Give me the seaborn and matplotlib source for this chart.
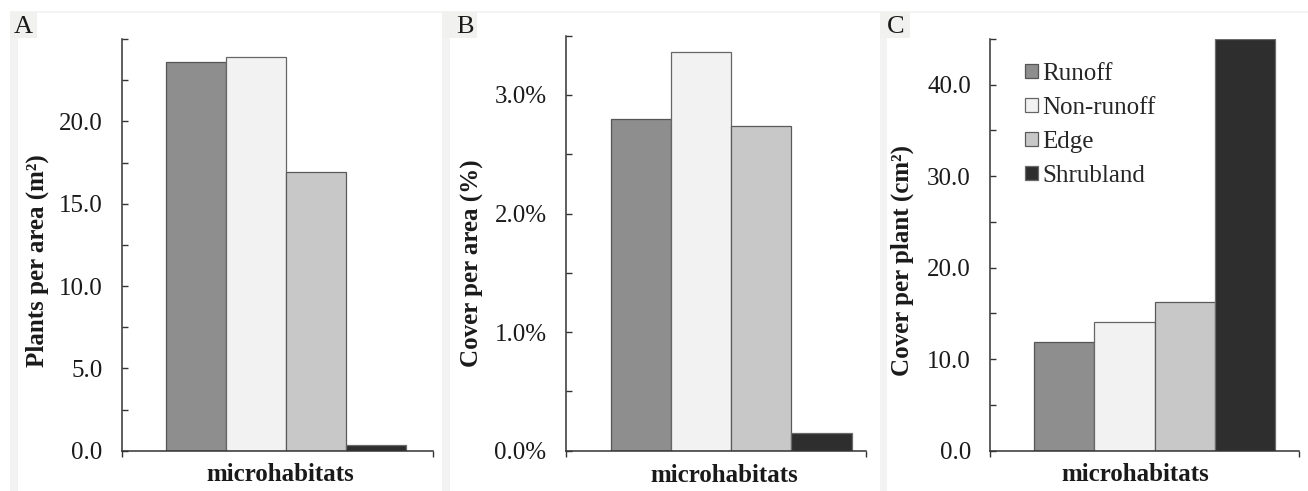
import matplotlib
matplotlib.use("Agg")
import matplotlib.pyplot as plt
from matplotlib.patches import Patch, Rectangle
from matplotlib.ticker import FixedLocator, FuncFormatter
import seaborn as sns
import pandas as pd

# ---- data ----
habitats = ["Runoff", "Non-runoff", "Edge", "Shrubland"]
plants_per_area = [23.6, 23.9, 16.9, 0.35]          # plants per m2
cover_per_area = [2.80, 3.36, 2.74, 0.15]            # percent
cover_per_plant = [11.9, 14.05, 16.2, 45.0]          # cm2
colors = ["#8e8e8e", "#f2f2f2", "#c8c8c8", "#2e2e2e"]
edge_colors = ["#555555", "#666666", "#5a5a5a", "#6a6a6a"]
group = "microhabitats"

sns.set_theme(style="white")
plt.rcParams["font.family"] = ["Liberation Serif", "DejaVu Serif"]

W, H = 1308, 491
fig = plt.figure(figsize=(W / 100, H / 100), dpi=100)
fig.patch.set_facecolor("white")

def fig_rect(x0, y0, x1, y1, color):
    fig.patches.append(Rectangle((x0 / W, (H - y1) / H), (x1 - x0) / W, (y1 - y0) / H,
                                 transform=fig.transFigure, facecolor=color,
                                 edgecolor="none", zorder=0))

# faint scan frame
fig_rect(10, 11.5, W, 12.5, "#f3f3f3")

def px_axes(left, right, top, bottom):
    return fig.add_axes([left / W, (H - bottom) / H, (right - left) / W, (bottom - top) / H])

panels = [
    dict(vals=plants_per_area, box=(122, 433, 39, 450.7), ylim=25, step=2.5, lab_step=5,
         fmt=lambda v: f"{v:.1f}", ylabel="Plants per area (m²)",
         xlim=(-0.547, 0.49), ylab_xy=(-0.273, 0.461), xlab_x=0.51, letter="A",
         letter_x=23.5, strip=(10, 18), lbox=(10, 37)),
    dict(vals=cover_per_area, box=(566, 866, 35.7, 450.7), ylim=3.5, step=0.5, lab_step=1,
         fmt=lambda v: f"{v:.1f}%", ylabel="Cover per area (%)",
         xlim=(-0.55, 0.448), ylab_xy=(-0.312, 0.453), xlab_x=0.527, letter="B",
         letter_x=465, strip=(442, 450), lbox=(442, 477)),
    dict(vals=cover_per_plant, box=(990.3, 1299, 39, 450.7), ylim=45, step=5, lab_step=10,
         fmt=lambda v: f"{v:.1f}", ylabel="Cover per plant (cm²)",
         xlim=(-0.546, 0.48), ylab_xy=(-0.284, 0.463), xlab_x=0.469, letter="C",
         letter_x=896, strip=(880, 887), lbox=(880, 910)),
]

for p in panels:
    fig_rect(p["strip"][0], 12, p["strip"][1], H, "#f3f3f3")
    fig_rect(p["lbox"][0], 12, p["lbox"][1], 38, "#f1f1ef")
    ax = px_axes(*p["box"])
    df = pd.DataFrame({"group": [group] * 4, "habitat": habitats, "value": p["vals"]})
    sns.barplot(data=df, x="group", y="value", hue="habitat", hue_order=habitats,
                palette=colors, width=0.8, gap=0, legend=False, ax=ax, saturation=1)
    for cont, ec in zip(ax.containers, edge_colors):
        for bar in cont:
            bar.set_edgecolor(ec)
            bar.set_linewidth(0.9)
    ax.set_xlim(*p["xlim"])
    ax.set_ylim(0, p["ylim"])
    ax.set_facecolor("white")
    for s in ["top", "right"]:
        ax.spines[s].set_visible(False)
    for s in ["left", "bottom"]:
        ax.spines[s].set_color("#333333")
        ax.spines[s].set_linewidth(1.1)
    n = int(round(p["ylim"] / p["step"]))
    ticks = [i * p["step"] for i in range(n + 1)]
    ax.yaxis.set_major_locator(FixedLocator(ticks))
    lab_step = p["lab_step"]; ylim = p["ylim"]; fmt = p["fmt"]
    ax.yaxis.set_major_formatter(FuncFormatter(
        lambda v, pos, ls=lab_step, ym=ylim, f=fmt:
            f(v) if abs(v / ls - round(v / ls)) < 1e-6 and v < ym - 1e-6 else ""))
    ax.tick_params(axis="y", direction="in", length=4, width=1.0, color="#333333",
                   pad=14, labelsize=18, labelcolor="#1a1a1a", left=True)
    ax.set_xticks(list(p["xlim"]))
    ax.set_xticklabels(["", ""])
    ax.tick_params(axis="x", direction="out", length=4, width=1.0, color="#333333", bottom=True)
    ax.set_ylabel(p["ylabel"], fontsize=18, fontweight="bold", va="center", color="#1a1a1a")
    ax.yaxis.set_label_coords(*p["ylab_xy"])
    ax.set_xlabel("")
    ax.text(p["xlab_x"], -0.059, group, transform=ax.transAxes, ha="center", va="center",
            fontsize=18, fontweight="bold", color="#1a1a1a")
    fig.text(p["letter_x"] / W, (H - 33) / H, p["letter"], ha="center", va="baseline",
             fontsize=19, color="#1a1a1a")
    if p["letter"] == "C":
        handles = [Patch(facecolor=c, edgecolor=e, linewidth=0.9) for c, e in zip(colors, edge_colors)]
        ax.legend(handles, habitats, loc="upper left", bbox_to_anchor=(0.113, 0.942),
                  frameon=False, fontsize=18, handlelength=0.5, handleheight=0.5,
                  handletextpad=0.2, labelspacing=0.48, borderpad=0, borderaxespad=0)

fig.savefig("out.png", dpi=100)
